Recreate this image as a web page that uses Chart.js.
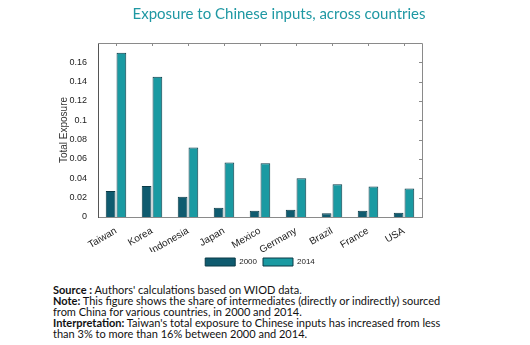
<!DOCTYPE html>
<html>
<head>
<meta charset="utf-8">
<script src="https://cdn.jsdelivr.net/npm/chart.js@4.4.1/dist/chart.umd.min.js"></script>
<style>
  html, body { margin: 0; padding: 0; background: #fff; }
  #wrap { position: relative; width: 530px; height: 345px; }
  #notes {
    position: absolute; left: 53px; top: 284px; width: 470px;
    font-family: Lato, "Open Sans", sans-serif; font-size: 11px; line-height: 11px; color: #111;
  }
  #notes b { font-weight: 700; }
</style>
</head>
<body>
<div id="wrap">
  <canvas id="exposureChart" width="530" height="276"></canvas>
  <div id="notes">
    <b>Source :</b> Authors' calculations based on WIOD data.<br>
    <b>Note:</b> This figure shows the share of intermediates (directly or indirectly) sourced<br>
    from China for various countries, in 2000 and 2014.<br>
    <b>Interpretation:</b> Taiwan's total exposure to Chinese inputs has increased from less<br>
    than 3% to more than 16% between 2000 and 2014.
  </div>
</div>
<script>
// Exposure to Chinese inputs, by country
const countries = ['Taiwan', 'Korea', 'Indonesia', 'Japan', 'Mexico', 'Germany', 'Brazil', 'France', 'USA'];
const exposure2000 = [0.027, 0.032, 0.021, 0.0095, 0.0065, 0.0075, 0.004, 0.0065, 0.0045];
const exposure2014 = [0.170, 0.145, 0.072, 0.0565, 0.0555, 0.040, 0.034, 0.0315, 0.0295];
const yTicks = [0, 0.02, 0.04, 0.06, 0.08, 0.1, 0.12, 0.14, 0.16];

// draws the top and right frame with small inward ticks
const boxFrame = {
  id: 'boxFrame',
  afterDraw(chart) {
    const ctx = chart.ctx;
    const a = chart.chartArea;
    const x = chart.scales.x;
    const y = chart.scales.y;
    ctx.save();
    ctx.strokeStyle = '#8a8a8a';
    ctx.lineWidth = 1;
    ctx.beginPath();
    ctx.moveTo(a.left, a.top + 0.5);
    ctx.lineTo(a.right + 0.5, a.top + 0.5);
    ctx.lineTo(a.right + 0.5, a.bottom);
    for (let i = 0; i < countries.length; i++) {
      const px = Math.round(x.getPixelForValue(i)) + 0.5;
      ctx.moveTo(px, a.top);
      ctx.lineTo(px, a.top + 3);
    }
    yTicks.forEach(v => {
      const py = Math.round(y.getPixelForValue(v)) + 0.5;
      ctx.moveTo(a.right, py);
      ctx.lineTo(a.right - 3, py);
    });
    ctx.stroke();
    ctx.restore();
  }
};

const ctx = document.getElementById('exposureChart');
new Chart(ctx, {
  type: 'bar',
  data: {
    labels: countries,
    datasets: [{
      label: '2000',
      data: exposure2000,
      backgroundColor: '#0f5b6f',
      borderColor: '#0a3a47',
      borderWidth: 1,
      barPercentage: 0.9,
      categoryPercentage: 0.6
    }, {
      label: '2014',
      data: exposure2014,
      backgroundColor: '#1a9aa2',
      borderColor: '#0a3a47',
      borderWidth: 1,
      barPercentage: 0.9,
      categoryPercentage: 0.6
    }]
  },
  options: {
    responsive: false,
    animation: false,
    layout: { padding: { left: 50, right: 22, top: 0, bottom: 0 } },
    scales: {
      x: {
        grid: { display: false },
        border: { color: '#8a8a8a' },
        afterFit: function(scale) { scale.height = 35; },
        ticks: {
          color: '#222',
          font: { family: 'Liberation Sans', size: 10 },
          minRotation: 30,
          maxRotation: 30,
          padding: 0
        }
      },
      y: {
        min: 0,
        max: 0.18,
        grid: { display: false },
        border: { color: '#555' },
        afterFit: function(scale) { scale.width = 48; },
        ticks: {
          stepSize: 0.02,
          color: '#222',
          font: { family: 'Liberation Sans', size: 9 },
          callback: function(value) {
            if (value > 0.17) return '';
            return String(+value.toFixed(2));
          }
        },
        title: {
          display: true,
          text: 'Total Exposure',
          color: '#333',
          font: { family: 'Liberation Sans', size: 10 },
          padding: { top: 8, bottom: 0 }
        }
      },
      y2: {
        position: 'right',
        display: true,
        grid: { display: false },
        border: { display: false },
        ticks: { display: false },
        afterFit: function(scale) { scale.width = 86; }
      }
    },
    plugins: {
      title: {
        display: true,
        text: 'Exposure to Chinese inputs, across countries',
        color: '#1f98a3',
        font: { family: 'Lato', size: 15, weight: 'normal' },
        padding: { top: 5, bottom: 20 }
      },
      legend: {
        position: 'bottom',
        fullSize: false,
        labels: {
          boxWidth: 30,
          boxHeight: 8,
          padding: 6,
          color: '#222',
          font: { family: 'Liberation Sans', size: 8 }
        }
      },
      tooltip: { enabled: false }
    }
  },
  plugins: [boxFrame]
});
</script>
</body>
</html>
